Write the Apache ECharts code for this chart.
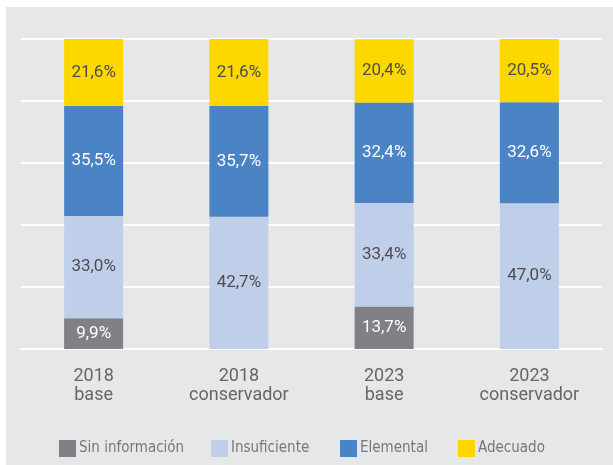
<!DOCTYPE html>
<html>
<head>
<meta charset="utf-8">
<script src="https://cdn.jsdelivr.net/npm/echarts@6/dist/echarts.min.js"></script>
<style>
  html, body { margin: 0; padding: 0; background: #fff; }
  #chart { position: absolute; left: 6px; top: 7px; width: 607px; height: 458px; background: #e6e7e9; }
</style>
</head>
<body>
<div id="chart"></div>
<script>
// categorías y valores (%)
const categories = ["2018\nbase", "2018\nconservador", "2023\nbase", "2023\nconservador"];
const seriesNames = ["Sin información", "Insuficiente", "Elemental", "Adecuado"];
const sinInformacion = [9.9, null, 13.7, null];
const insuficiente = [33.0, 42.7, 33.4, 47.0];
const elemental = [35.5, 35.7, 32.4, 32.6];
const adecuado = [21.6, 21.6, 20.4, 20.5];

const font = "'DejaVu Sans Condensed', 'Roboto', sans-serif";
const labelFont = "Roboto, sans-serif";
const fmt = (p) => p.value == null ? "" : p.value.toFixed(1).replace(".", ",") + "%";

const mkSerie = (name, data, color, textColor) => ({
  name: name,
  type: "bar",
  stack: "total",
  barWidth: 59,
  data: data,
  itemStyle: { color: color },
  label: {
    show: true,
    position: "inside",
    formatter: fmt,
    color: textColor,
    fontFamily: labelFont,
    fontSize: 17,
  },
});

// una leyenda por elemento, para colocarlas como en el original
const legendLeft = [48, 200, 329, 447];
const legends = seriesNames.map((n, i) => ({
  top: 428,
  left: legendLeft[i],
  itemWidth: 17,
  itemHeight: 17,
  icon: "rect",
  textStyle: { color: "#777", fontFamily: font, fontSize: 15, padding: [0, 0, 0, -2] },
  data: [n],
}));

const myChart = echarts.init(document.getElementById("chart"));
myChart.setOption({
  backgroundColor: "#e6e7e9",
  animation: false,
  grid: { left: 15, right: 11, top: 32, bottom: 116 },
  legend: legends,
  xAxis: {
    type: "category",
    data: categories,
    axisLine: { lineStyle: { color: "#fff", width: 2 } },
    axisTick: { show: false },
    axisLabel: { color: "#666", fontFamily: labelFont, fontSize: 18, lineHeight: 19, margin: 18 },
  },
  yAxis: {
    type: "value",
    min: 0,
    max: 100,
    interval: 20,
    axisLabel: { show: false },
    splitLine: { lineStyle: { color: "#fff", width: 2 } },
  },
  series: [
    mkSerie(seriesNames[0], sinInformacion, "#808184", "#fff"),
    mkSerie(seriesNames[1], insuficiente, "#c0cfe9", "#4d4d4d"),
    mkSerie(seriesNames[2], elemental, "#4a84c4", "#fff"),
    mkSerie(seriesNames[3], adecuado, "#fcd800", "#4d4d4d"),
  ],
});
</script>
</body>
</html>
